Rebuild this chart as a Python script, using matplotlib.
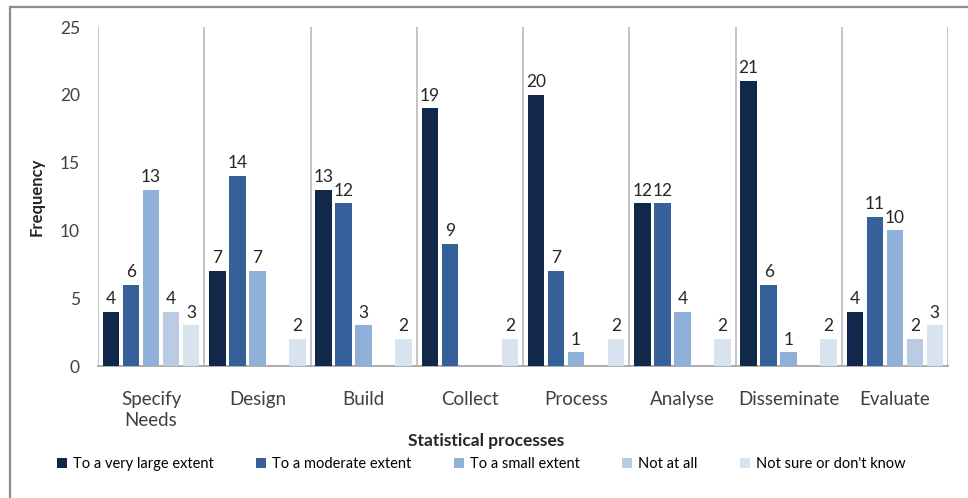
import matplotlib
matplotlib.use("Agg")
import matplotlib.pyplot as plt
from matplotlib.patches import Rectangle
import numpy as np

plt.rcParams['font.family'] = ['Lato', 'DejaVu Sans']

categories = ["Specify\nNeeds", "Design", "Build", "Collect", "Process",
              "Analyse", "Disseminate", "Evaluate"]
series_names = ["To a very large extent", "To a moderate extent",
                "To a small extent", "Not at all", "Not sure or don't know"]
very_large = [4, 7, 13, 19, 20, 12, 21, 4]
moderate = [6, 14, 12, 9, 7, 12, 6, 11]
small = [13, 7, 3, 0, 1, 4, 1, 10]
not_at_all = [4, 0, 0, 0, 0, 0, 0, 2]
not_sure = [3, 2, 2, 2, 2, 2, 2, 3]
y_ticks = [0, 5, 10, 15, 20, 25]

series = [very_large, moderate, small, not_at_all, not_sure]
colors = ["#12284a", "#35609a", "#8fb0d8", "#b9cce4", "#d8e3f0"]

fig = plt.figure(figsize=(9.68, 4.98), dpi=100)
ax = fig.add_axes([98 / 968, 1 - 366 / 498, 850 / 968, 339 / 498])

# outer chart border (top and left edges visible)
fig.patches.append(Rectangle((10 / 968, -0.1), 1.2, 1 - 7 / 498 + 0.1,
                             transform=fig.transFigure, fill=False,
                             edgecolor="#8c8c8c", linewidth=1.6))

x = np.arange(len(categories))
step = 0.188
width = 0.155
for i, (vals, col, name) in enumerate(zip(series, colors, series_names)):
    pos = x + (i - 2) * step
    bars = ax.bar(pos, vals, width, color=col, label=name, zorder=3)
    for b, v in zip(bars, vals):
        if v > 0:
            ax.text(b.get_x() + b.get_width() / 2, v + 0.35, str(v),
                    ha="center", va="bottom", fontsize=12.5, color="#262626")

ax.set_xlim(-0.5, len(categories) - 0.5)
ax.set_ylim(0, 25)
ax.set_yticks(y_ticks)
ax.set_xticks(x)
ax.set_xticklabels(categories, fontsize=13.5, color="#404040", linespacing=1.25)
ax.tick_params(axis="y", length=0, labelsize=12.5, labelcolor="#404040", pad=13)
ax.tick_params(axis="x", length=0, pad=18)

# category separators
for b in np.arange(-0.5, len(categories) + 0.5, 1.0):
    ax.axvline(b, color="#bfbfbf", linewidth=1.3, zorder=1)

for s in ["top", "right", "left"]:
    ax.spines[s].set_visible(False)
ax.spines["bottom"].set_color("#a6a6a6")
ax.spines["bottom"].set_linewidth(1.3)

ax.set_ylabel("Frequency", fontsize=12, fontweight="bold", color="#262626")
ax.yaxis.set_label_coords((45 - 98) / 850, 0.5)
ax.set_xlabel("Statistical processes", fontsize=12.5, fontweight="bold",
              color="#262626")
ax.xaxis.set_label_coords((486 - 98) / 850, -(433 - 366) / 339)

fig.legend(loc="center", bbox_to_anchor=(0.497, 1 - 464 / 498), ncol=5,
           frameon=False, fontsize=10.5, handlelength=0.7, handleheight=0.7,
           handletextpad=0.4, columnspacing=2.9)

fig.savefig("out.png", dpi=100)
